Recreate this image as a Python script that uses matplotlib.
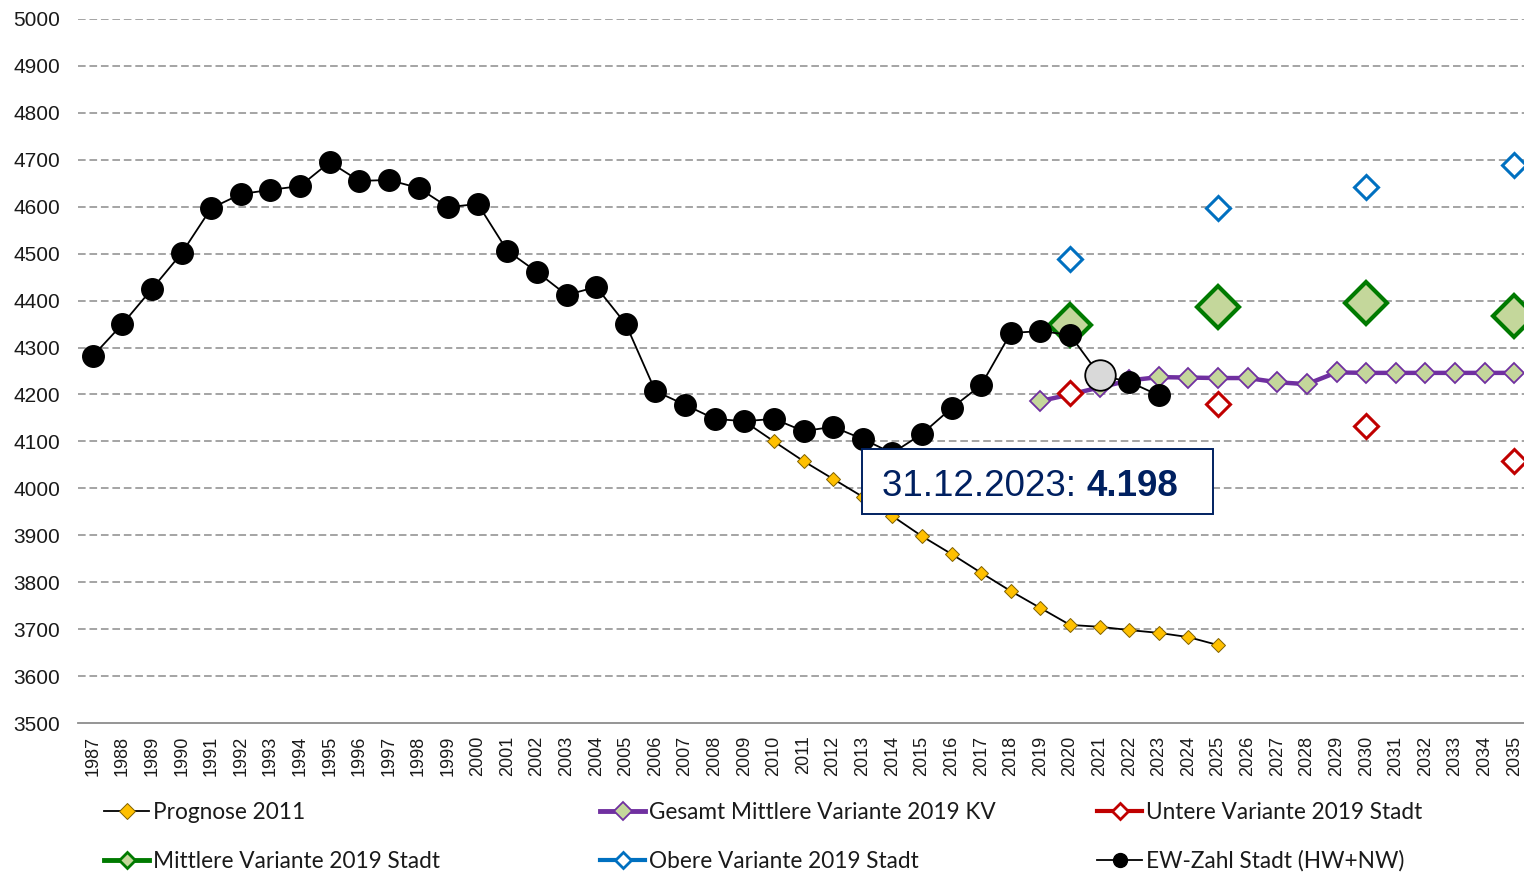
import matplotlib
matplotlib.use("Agg")
import numpy as np
import matplotlib.pyplot as plt
from matplotlib.lines import Line2D
from matplotlib.patches import Rectangle
from matplotlib.text import Annotation

# Einwohnerzahl Stadt (HW+NW), 1987-2023
ew_years = list(range(1987, 2024))
ew_values = [4282, 4350, 4425, 4501, 4597, 4627, 4636, 4644, 4695, 4655,
             4657, 4640, 4599, 4606, 4506, 4461, 4412, 4429, 4350, 4207,
             4178, 4148, 4143, 4148, 4122, 4131, 4105, 4075, 4116, 4171,
             4220, 4331, 4335, 4327, 4241, 4227, 4198]
highlight_year = 2021

# Prognose 2011
prog_years = list(range(2009, 2026))
prog_values = [4143, 4100, 4058, 4020, 3982, 3941, 3898, 3860, 3820, 3781,
               3745, 3709, 3705, 3698, 3692, 3683, 3666]

# Gesamt Mittlere Variante 2019 KV
kv_years = list(range(2019, 2036))
kv_values = [4186, 4200, 4215, 4230, 4237, 4236, 4235, 4235, 4226, 4222,
             4247, 4246, 4246, 4246, 4246, 4246, 4246]

# Varianten 2019 Stadt (5-Jahres-Schritte)
var_years = [2020, 2025, 2030, 2035]
mittlere = [4348, 4386, 4395, 4367]
obere = [4489, 4597, 4642, 4689]
untere = [4203, 4180, 4133, 4058]

stand_text = "31.12.2023: "
stand_value = "4.198"

W, H = 1524, 872
fig = plt.figure(figsize=(W / 100, H / 100), dpi=100)
ax = fig.add_axes([78 / W, 149 / H, 1451 / W, 704 / H])

YELLOW = "#FFC000"
PURPLE = "#7030A0"
LGREEN = "#C4D79B"
GREEN = "#007A00"
BLUE = "#0070C0"
RED = "#C00000"

ax.plot(prog_years, prog_values, color="black", lw=1.3, marker="D", ms=7.5,
        mfc=YELLOW, mec="#7f6000", mew=0.7, zorder=3)
ax.plot(kv_years, kv_values, color=PURPLE, lw=3.2, marker="D", ms=9.8,
        mfc=LGREEN, mec=PURPLE, mew=1.3, zorder=4)
ax.plot(var_years, untere, ls="none", marker="D", ms=12.5,
        mfc="white", mec=RED, mew=2.2, zorder=5)
ax.plot(var_years, obere, ls="none", marker="D", ms=12.5,
        mfc="white", mec=BLUE, mew=2.2, zorder=5)
ax.plot(var_years, mittlere, ls="none", marker="D", ms=21,
        mfc=LGREEN, mec=GREEN, mew=3, zorder=5)
ax.plot(ew_years, ew_values, color="black", lw=1.3, marker="o", ms=15.5,
        mfc="black", mec="black", zorder=6)
hi = ew_years.index(highlight_year)
ax.plot([ew_years[hi]], [ew_values[hi]], ls="none", marker="o", ms=22,
        mfc="#D9D9D9", mec="black", mew=1.3, zorder=7)

ax.set_xlim(1986.5, 2035.5)
ax.set_ylim(3500, 5000)
ax.set_xticks(range(1987, 2036))
ax.set_xticklabels([str(y) for y in range(1987, 2036)], rotation=90,
                   fontsize=13, family="Liberation Sans", va="top")
ax.set_yticks(range(3500, 5001, 100))
ax.set_yticklabels([str(v) for v in range(3500, 5001, 100)],
                   fontsize=15, family="Liberation Sans")
ax.tick_params(axis="both", length=0, colors="#1a1a1a")
ax.tick_params(axis="y", pad=13)
ax.tick_params(axis="x", pad=9)
for y in range(3600, 5001, 100):
    ax.axhline(y, color="#8c8c8c", lw=1.1, ls=(0, (5, 2.5)), zorder=1)
for s in ["left", "right", "top"]:
    ax.spines[s].set_visible(False)
ax.spines["bottom"].set_color("#8c8c8c")
ax.spines["bottom"].set_linewidth(1.3)

# Legende: drei Spalten, zwei Zeilen
entries = [
    ("Prognose 2011", Line2D([], [], color="black", lw=1.3, marker="D", ms=8,
                             mfc=YELLOW, mec="#7f6000", mew=0.7), 104, 812),
    ("Gesamt Mittlere Variante 2019 KV",
     Line2D([], [], color=PURPLE, lw=3.5, marker="D", ms=9,
            mfc=LGREEN, mec=PURPLE, mew=1.3), 600, 812),
    ("Untere Variante 2019 Stadt",
     Line2D([], [], color=RED, lw=3, marker="D", ms=8,
            mfc="white", mec=RED, mew=2), 1097, 812),
    ("Mittlere Variante 2019 Stadt",
     Line2D([], [], color=GREEN, lw=3.5, marker="D", ms=8,
            mfc=LGREEN, mec=GREEN, mew=2), 104, 861),
    ("Obere Variante 2019 Stadt",
     Line2D([], [], color=BLUE, lw=3, marker="D", ms=8,
            mfc="white", mec=BLUE, mew=2), 600, 861),
    ("EW-Zahl Stadt (HW+NW)",
     Line2D([], [], color="black", lw=1.3, marker="o", ms=10,
            mfc="black", mec="black"), 1097, 861),
]
for label, handle, px, py in entries:
    fig.legend(handles=[handle], labels=[label], loc="center left",
               bbox_to_anchor=(px / W, 1 - py / H), frameon=False,
               borderpad=0, borderaxespad=0, handlelength=2.0,
               handletextpad=0.15, prop={"family": "Lato", "size": 16.3},
               labelcolor="#1a1a1a")

# Stand-Box
fig.add_artist(Rectangle((862 / W, 1 - 514 / H), 351 / W, 65 / H,
                         transform=fig.transFigure, facecolor="white",
                         edgecolor="#002060", lw=1.4, zorder=10))
t1 = fig.text(882 / W, 1 - 496 / H, stand_text, fontsize=26.5,
              family="Liberation Sans", color="#002060", va="baseline",
              zorder=11)
t2 = Annotation(stand_value, xy=(1, 0), xycoords=t1, fontsize=26.5,
                family="Liberation Sans", weight="bold", color="#002060",
                va="bottom", ha="left", zorder=11, annotation_clip=False)
fig.add_artist(t2)

fig.savefig("out.png", dpi=100)
